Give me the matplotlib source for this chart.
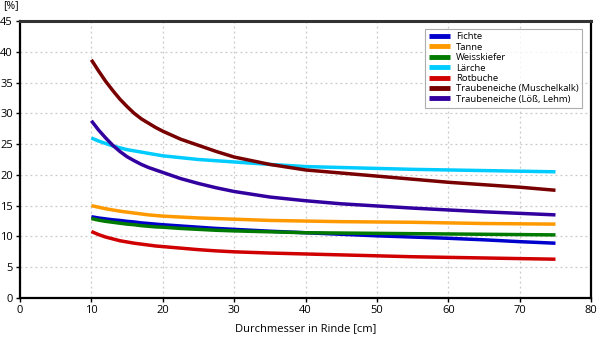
import matplotlib
matplotlib.use("Agg")
import matplotlib.pyplot as plt

# ── Data ──────────────────────────────────────────────────────────────────────

diameter = [10, 11, 12, 13, 14, 15, 16, 17, 18, 19, 20, 22.5, 25, 27.5, 30,
            35, 40, 45, 50, 55, 60, 65, 70, 75]

fichte = [13.2, 13.0, 12.85, 12.7, 12.6, 12.45, 12.35, 12.2, 12.1, 12.0, 11.9,
          11.7, 11.5, 11.3, 11.15,
          10.85, 10.6, 10.35, 10.1, 9.9, 9.7, 9.45, 9.15, 8.9]
tanne = [15.0, 14.75, 14.5, 14.3, 14.1, 13.95, 13.8, 13.65, 13.5, 13.4, 13.3,
         13.15, 13.0, 12.9, 12.8,
         12.6, 12.5, 12.4, 12.35, 12.3, 12.2, 12.1, 12.05, 12.0]
weisskiefer = [12.9, 12.65, 12.45, 12.3, 12.15, 12.0, 11.9, 11.75, 11.65, 11.55, 11.5,
               11.3, 11.15, 11.0, 10.9,
               10.75, 10.6, 10.55, 10.5, 10.45, 10.4, 10.35, 10.3, 10.25]
laerche = [26.0, 25.5, 25.1, 24.7, 24.4, 24.1, 23.9, 23.7, 23.5, 23.3, 23.1,
           22.8, 22.5, 22.3, 22.1,
           21.7, 21.35, 21.2, 21.05, 20.9, 20.8, 20.7, 20.6, 20.5]
rotbuche = [10.8, 10.3, 9.9, 9.6, 9.3, 9.1, 8.9, 8.75, 8.6, 8.45, 8.35,
            8.1, 7.85, 7.65, 7.5,
            7.3, 7.15, 7.0, 6.85, 6.7, 6.6, 6.5, 6.4, 6.3]
eiche_muschelkalk = [38.7, 36.9, 35.2, 33.7, 32.3, 31.1, 30.0, 29.1, 28.4, 27.7, 27.1,
                     25.8, 24.8, 23.8, 22.9,
                     21.7, 20.8, 20.3, 19.8, 19.3, 18.8, 18.4, 18.0, 17.5]
eiche_lehm = [28.8, 27.3, 26.0, 24.8, 23.8, 22.95, 22.3, 21.7, 21.2, 20.8, 20.4,
              19.4, 18.6, 17.9, 17.3,
              16.4, 15.8, 15.3, 14.95, 14.6, 14.3, 14.0, 13.75, 13.5]

SERIES = [
    ("Fichte", fichte, "#0000cc"),
    ("Tanne", tanne, "#ff9900"),
    ("Weisskiefer", weisskiefer, "#007a00"),
    ("Lärche", laerche, "#00ccff"),
    ("Rotbuche", rotbuche, "#d00000"),
    ("Traubeneiche (Muschelkalk)", eiche_muschelkalk, "#780000"),
    ("Traubeneiche (Löß, Lehm)", eiche_lehm, "#3300a0"),
]

x_ticks = [0, 10, 20, 30, 40, 50, 60, 70, 80]
y_ticks = [0, 5, 10, 15, 20, 25, 30, 35, 40, 45]

# ── Plot ──────────────────────────────────────────────────────────────────────

plt.rcParams["font.family"] = ["Open Sans", "DejaVu Sans"]

fig = plt.figure(figsize=(6, 3.39), dpi=100)
ax = fig.add_axes([0.0333, 0.121, 0.952, 0.817])

for label, values, color in SERIES:
    ax.plot(diameter, values, color=color, lw=2.5, label=label,
            solid_capstyle="butt", solid_joinstyle="round")

ax.set_xlim(0, 80)
ax.set_ylim(0, 45)
ax.set_xticks(x_ticks)
ax.set_yticks(y_ticks)
ax.tick_params(labelsize=8, length=3, width=1, direction="out", pad=2)
ax.grid(True, color="#c8c8c8", linestyle=(0, (1.5, 2.5)), lw=0.9)
ax.set_axisbelow(True)

for side in ["left", "bottom", "right"]:
    ax.spines[side].set_linewidth(1.6)
    ax.spines[side].set_color("black")
ax.spines["top"].set_linewidth(2.2)
ax.spines["top"].set_color("#333333")

ax.set_xlabel("Durchmesser in Rinde [cm]", fontsize=8, labelpad=5)
fig.text(0.005, 0.982, "[%]", fontsize=7.5, ha="left", va="center")

leg = ax.legend(loc="upper right", bbox_to_anchor=(0.993, 0.99),
                fontsize=6.8, frameon=True, fancybox=False,
                handlelength=2.3, handletextpad=0.6, labelspacing=0.15,
                borderpad=0.4)
leg.get_frame().set_edgecolor("#999999")
leg.get_frame().set_linewidth(0.8)
for line in leg.get_lines():
    line.set_linewidth(3.5)

fig.savefig("out.png", dpi=100)
